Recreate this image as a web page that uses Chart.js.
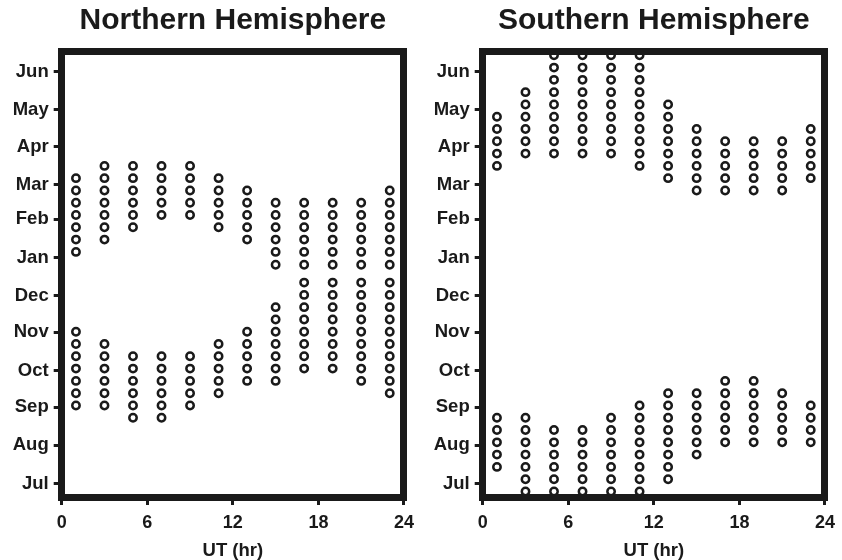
<!DOCTYPE html>
<html>
<head>
<meta charset="utf-8">
<script src="https://cdn.jsdelivr.net/npm/chart.js@4.4.1/dist/chart.umd.min.js"></script>
<style>
  body { margin: 0; background: #fff; }
  .panel { position: absolute; top: 0; width: 421px; height: 560px; }
</style>
</head>
<body>
<div class="panel" style="left:0"><canvas id="north" width="421" height="560"></canvas></div>
<div class="panel" style="left:421px"><canvas id="south" width="421" height="560"></canvas></div>
<script>
// UT hour of each column of circles
var utHours = [1, 3, 5, 7, 9, 11, 13, 15, 17, 19, 21, 23];

// y axis runs in days after 1 Jul, ticks at the start of each month
var monthLabels = ['Jul', 'Aug', 'Sep', 'Oct', 'Nov', 'Dec', 'Jan', 'Feb', 'Mar', 'Apr', 'May', 'Jun'];
var monthStart = [0, 31, 62, 92, 123, 153, 184, 215, 243, 274, 304, 335];
var xTicks = [0, 6, 12, 18, 24];

// circle positions (days after 1 Jul), one list per UT column
var northDays = [
  [63.5, 73.5, 83.5, 93.5, 103.5, 113.5, 123.5, 188.5, 198.5, 208.5, 218.5, 228.5, 238.5, 248.5],
  [63.5, 73.5, 83.5, 93.5, 103.5, 113.5, 198.5, 208.5, 218.5, 228.5, 238.5, 248.5, 258.5],
  [53.5, 63.5, 73.5, 83.5, 93.5, 103.5, 208.5, 218.5, 228.5, 238.5, 248.5, 258.5],
  [53.5, 63.5, 73.5, 83.5, 93.5, 103.5, 218.5, 228.5, 238.5, 248.5, 258.5],
  [63.5, 73.5, 83.5, 93.5, 103.5, 218.5, 228.5, 238.5, 248.5, 258.5],
  [73.5, 83.5, 93.5, 103.5, 113.5, 208.5, 218.5, 228.5, 238.5, 248.5],
  [83.5, 93.5, 103.5, 113.5, 123.5, 198.5, 208.5, 218.5, 228.5, 238.5],
  [83.5, 93.5, 103.5, 113.5, 123.5, 133.5, 143.5, 178, 188.5, 198.5, 208.5, 218.5, 228.5],
  [93.5, 103.5, 113.5, 123.5, 133.5, 143.5, 153.5, 163.5, 178, 188.5, 198.5, 208.5, 218.5, 228.5],
  [93.5, 103.5, 113.5, 123.5, 133.5, 143.5, 153.5, 163.5, 178, 188.5, 198.5, 208.5, 218.5, 228.5],
  [83.5, 93.5, 103.5, 113.5, 123.5, 133.5, 143.5, 153.5, 163.5, 178, 188.5, 198.5, 208.5, 218.5, 228.5],
  [73.5, 83.5, 93.5, 103.5, 113.5, 123.5, 133.5, 143.5, 153.5, 163.5, 178, 188.5, 198.5, 208.5, 218.5, 228.5, 238.5]
];

var southDays = [
  [13.5, 23.5, 33.5, 43.5, 53.5, 258.5, 268.5, 278.5, 288.5, 298.5],
  [-6.5, 3.5, 13.5, 23.5, 33.5, 43.5, 53.5, 268.5, 278.5, 288.5, 298.5, 308.5, 318.5],
  [-6.5, 3.5, 13.5, 23.5, 33.5, 43.5, 268.5, 278.5, 288.5, 298.5, 308.5, 318.5, 328.5, 338.5, 348.5],
  [-6.5, 3.5, 13.5, 23.5, 33.5, 43.5, 268.5, 278.5, 288.5, 298.5, 308.5, 318.5, 328.5, 338.5, 348.5],
  [-6.5, 3.5, 13.5, 23.5, 33.5, 43.5, 53.5, 268.5, 278.5, 288.5, 298.5, 308.5, 318.5, 328.5, 338.5, 348.5],
  [-6.5, 3.5, 13.5, 23.5, 33.5, 43.5, 53.5, 63.5, 258.5, 268.5, 278.5, 288.5, 298.5, 308.5, 318.5, 328.5, 338.5, 348.5],
  [3.5, 13.5, 23.5, 33.5, 43.5, 53.5, 63.5, 73.5, 248.5, 258.5, 268.5, 278.5, 288.5, 298.5, 308.5],
  [23.5, 33.5, 43.5, 53.5, 63.5, 73.5, 238.5, 248.5, 258.5, 268.5, 278.5, 288.5],
  [33.5, 43.5, 53.5, 63.5, 73.5, 83.5, 238.5, 248.5, 258.5, 268.5, 278.5],
  [33.5, 43.5, 53.5, 63.5, 73.5, 83.5, 238.5, 248.5, 258.5, 268.5, 278.5],
  [33.5, 43.5, 53.5, 63.5, 73.5, 238.5, 248.5, 258.5, 268.5, 278.5],
  [33.5, 43.5, 53.5, 63.5, 248.5, 258.5, 268.5, 278.5, 288.5]
];

var ink = '#1a1a1a';
Chart.defaults.font.family = "'Liberation Sans', Arial, sans-serif";
Chart.defaults.font.weight = 'bold';
Chart.defaults.color = ink;

function toPoints(cols) {
  var pts = [];
  cols.forEach(function(col, i) {
    col.forEach(function(d) { pts.push({x: utHours[i], y: d}); });
  });
  return pts;
}

// left: width of the y axis (chart area left edge), padR: space right of the frame
function makeChart(id, title, cols, left, padR) {
  var frame = {display: true, width: 7, color: ink, z: 1};
  var ticksGrid = {drawOnChartArea: false, tickLength: 8, tickWidth: 3, tickColor: ink, lineWidth: 7};
  return new Chart(document.getElementById(id), {
    type: 'scatter',
    data: {
      datasets: [{
        data: toPoints(cols),
        pointRadius: 3.7,
        borderWidth: 2.5,
        borderColor: ink,
        backgroundColor: '#fff',
        clip: false
      }]
    },
    options: {
      responsive: false,
      animation: false,
      events: [],
      layout: {padding: {left: 0, right: padR, top: 0, bottom: 0}},
      plugins: {
        legend: {display: false},
        tooltip: {enabled: false}
      },
      scales: {
        x: {
          min: 0, max: 24,
          afterBuildTicks: function(axis) { axis.ticks = xTicks.map(function(v) { return {value: v}; }); },
          ticks: {font: {size: 18}, padding: 7, maxRotation: 0, autoSkip: false},
          grid: ticksGrid,
          border: frame,
          title: {display: true, text: 'UT (hr)', font: {size: 18.5, lineHeight: 1}, padding: 0},
          afterFit: function(axis) { axis.height = 63; }
        },
        y: {
          min: -11, max: 352,
          afterBuildTicks: function(axis) { axis.ticks = monthStart.map(function(v) { return {value: v}; }); },
          ticks: {
            font: {size: 18.5}, padding: 5, autoSkip: false,
            callback: function(v) { return monthLabels[monthStart.indexOf(v)]; }
          },
          grid: ticksGrid,
          border: frame,
          afterFit: function(axis) { axis.width = left; }
        },
        // top axis carries the panel title and the top edge of the frame
        x2: {
          position: 'top',
          ticks: {display: false},
          grid: {display: false, lineWidth: 7},
          border: frame,
          title: {display: true, text: title, font: {size: 30}, padding: {top: 3, bottom: 0}},
          afterFit: function(axis) { axis.height = 51; }
        },
        y2: {
          position: 'right',
          ticks: {display: false},
          grid: {display: false, lineWidth: 7},
          border: frame,
          afterFit: function(axis) { axis.width = 0; }
        }
      }
    }
  });
}

makeChart('north', 'Northern Hemisphere', northDays, 61.7, 17);
makeChart('south', 'Southern Hemisphere', southDays, 61.7, 15.3);
</script>
</body>
</html>
